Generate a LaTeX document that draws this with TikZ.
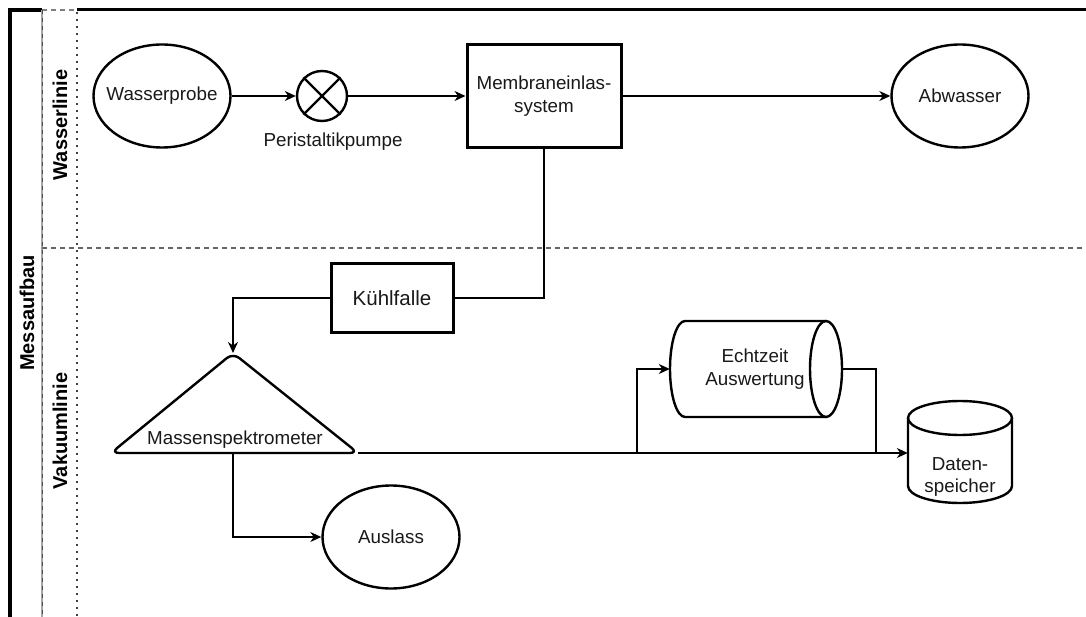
\documentclass[tikz,border=0pt]{standalone}
\usepackage{fontspec}
\setmainfont{Liberation Sans}
\usetikzlibrary{arrows.meta,shapes.geometric,calc}
\begin{document}
\begin{tikzpicture}[x=1pt,y=-1pt,
  txt/.style={font=\fontsize{18.8}{23}\selectfont, align=center, text=black!90},
  lanelbl/.style={font=\fontsize{20}{24}\selectfont\bfseries, rotate=90, text=black},
  oval/.style={draw, ellipse, line width=2.4pt, minimum width=137pt, minimum height=103pt, inner sep=0pt, txt},
  boxnode/.style={draw, rectangle, line width=3pt, inner sep=0pt, txt},
  ghost/.style={rectangle, inner sep=0pt, txt},
  conn/.style={line width=1.5pt, -{Stealth[length=11pt,width=10pt,inset=3.5pt]}},
  plain/.style={line width=1.5pt},
  shapeline/.style={line width=2.4pt, line join=round}
]
\useasboundingbox (0,0) rectangle (1086,617);
\fill[white] (0,0) rectangle (1086,617);

% ---- pool / lanes frame ----
\draw[line width=3.5pt] (10,617) -- (10,10) -- (42,10);
\draw[line width=3pt] (77,10) -- (1086,10);
\draw[gray, line width=2pt, dash pattern=on 5pt off 4pt] (42,10) -- (77,10);
\draw[gray!70, line width=2.5pt] (42,10) -- (42,617);
\draw[black!70, line width=1pt, dash pattern=on 4pt off 4pt] (42,10) -- (42,617);
\draw[black!75, line width=1.3pt, dash pattern=on 2pt off 5pt] (77,12) -- (77,617);
\draw[black!60, line width=1.3pt, dash pattern=on 5pt off 4pt] (42,248) -- (1086,248);

\node[lanelbl] (pool) at (27,313) {Messaufbau};
\node[lanelbl] (lane1) at (60,125) {Wasserlinie};
\node[lanelbl] (lane2) at (60,431) {Vakuumlinie};

% ---- top row ----
\node[oval] (wp) at (162,96) {\makebox[0pt]{Wasserprobe}};
\node[draw, circle, line width=2.4pt, minimum size=50pt, inner sep=0pt] (pp) at (322,96) {};
\draw[line width=2.4pt] (pp.45) -- (pp.225) (pp.135) -- (pp.-45);
\node[txt] (pplbl) at (333,142) {Peristaltikpumpe};
\node[boxnode, minimum width=154pt, minimum height=103pt] (mb) at (544,96) {Membraneinlas-\\system};
\node[oval] (aw) at (960,96) {\makebox[0pt]{Abwasser}};

\draw[conn] (wp.east) -- (pp.west);
\draw[conn] (pp.east) -- (mb.west);
\draw[conn] (mb.east) -- (aw.west);

% ---- Kühlfalle ----
\node[boxnode, minimum width=122pt, minimum height=69pt, font=\fontsize{20.5}{24}\selectfont] (kf) at (392,298) {Kühlfalle};
\draw[plain] (mb.south) |- (kf.east);

% ---- Massenspektrometer triangle ----
\coordinate (ms-top) at (233,353);
\coordinate (ms-left) at (111,453);
\coordinate (ms-right) at (358,453);
\coordinate (ms-bot) at (233,453);
\draw[shapeline, rounded corners=8pt] (ms-left) -- (ms-top) -- (ms-right) -- cycle;
\node[txt] (mslbl) at (235,440) {Massenspektrometer};
\draw[conn] (kf.west) -| (ms-top);

% ---- Auslass ----
\node[oval] (au) at (391,537) {\makebox[0pt]{Auslass}};
\draw[conn] (ms-bot) |- (au.west);

% ---- Echtzeit Auswertung (horizontal cylinder) ----
\draw[shapeline] (826,321) -- (685,321)
  arc[start angle=270, end angle=90, x radius=15, y radius=48] -- (826,417);
\draw[shapeline] (826,369) ellipse [x radius=16, y radius=48];
\node[ghost, minimum width=172pt, minimum height=96pt] (ez) at (756,369) {};
\node[txt] (ezlbl) at (755,369) {Echtzeit\\Auswertung};

% ---- Datenspeicher (vertical cylinder) ----
\draw[shapeline] (908,418) -- (908,486)
  arc[start angle=180, end angle=0, x radius=52, y radius=17] -- (1012,418);
\draw[shapeline] (960,418) ellipse [x radius=52, y radius=17];
\node[ghost, minimum width=104pt, minimum height=102pt] (ds) at (960,453) {};
\node[txt, font=\fontsize{18.8}{22}\selectfont] (dslbl) at (960,477) {Daten-\\speicher};

% ---- lower connectors ----
\coordinate (br1) at (637,453);
\coordinate (br2) at (876,453);
\draw[conn] (ms-right) -- (ds.west);
\draw[conn] (br1) |- (ez.west);
\draw[plain] (ez.east) -| (br2);
\end{tikzpicture}
\end{document}
